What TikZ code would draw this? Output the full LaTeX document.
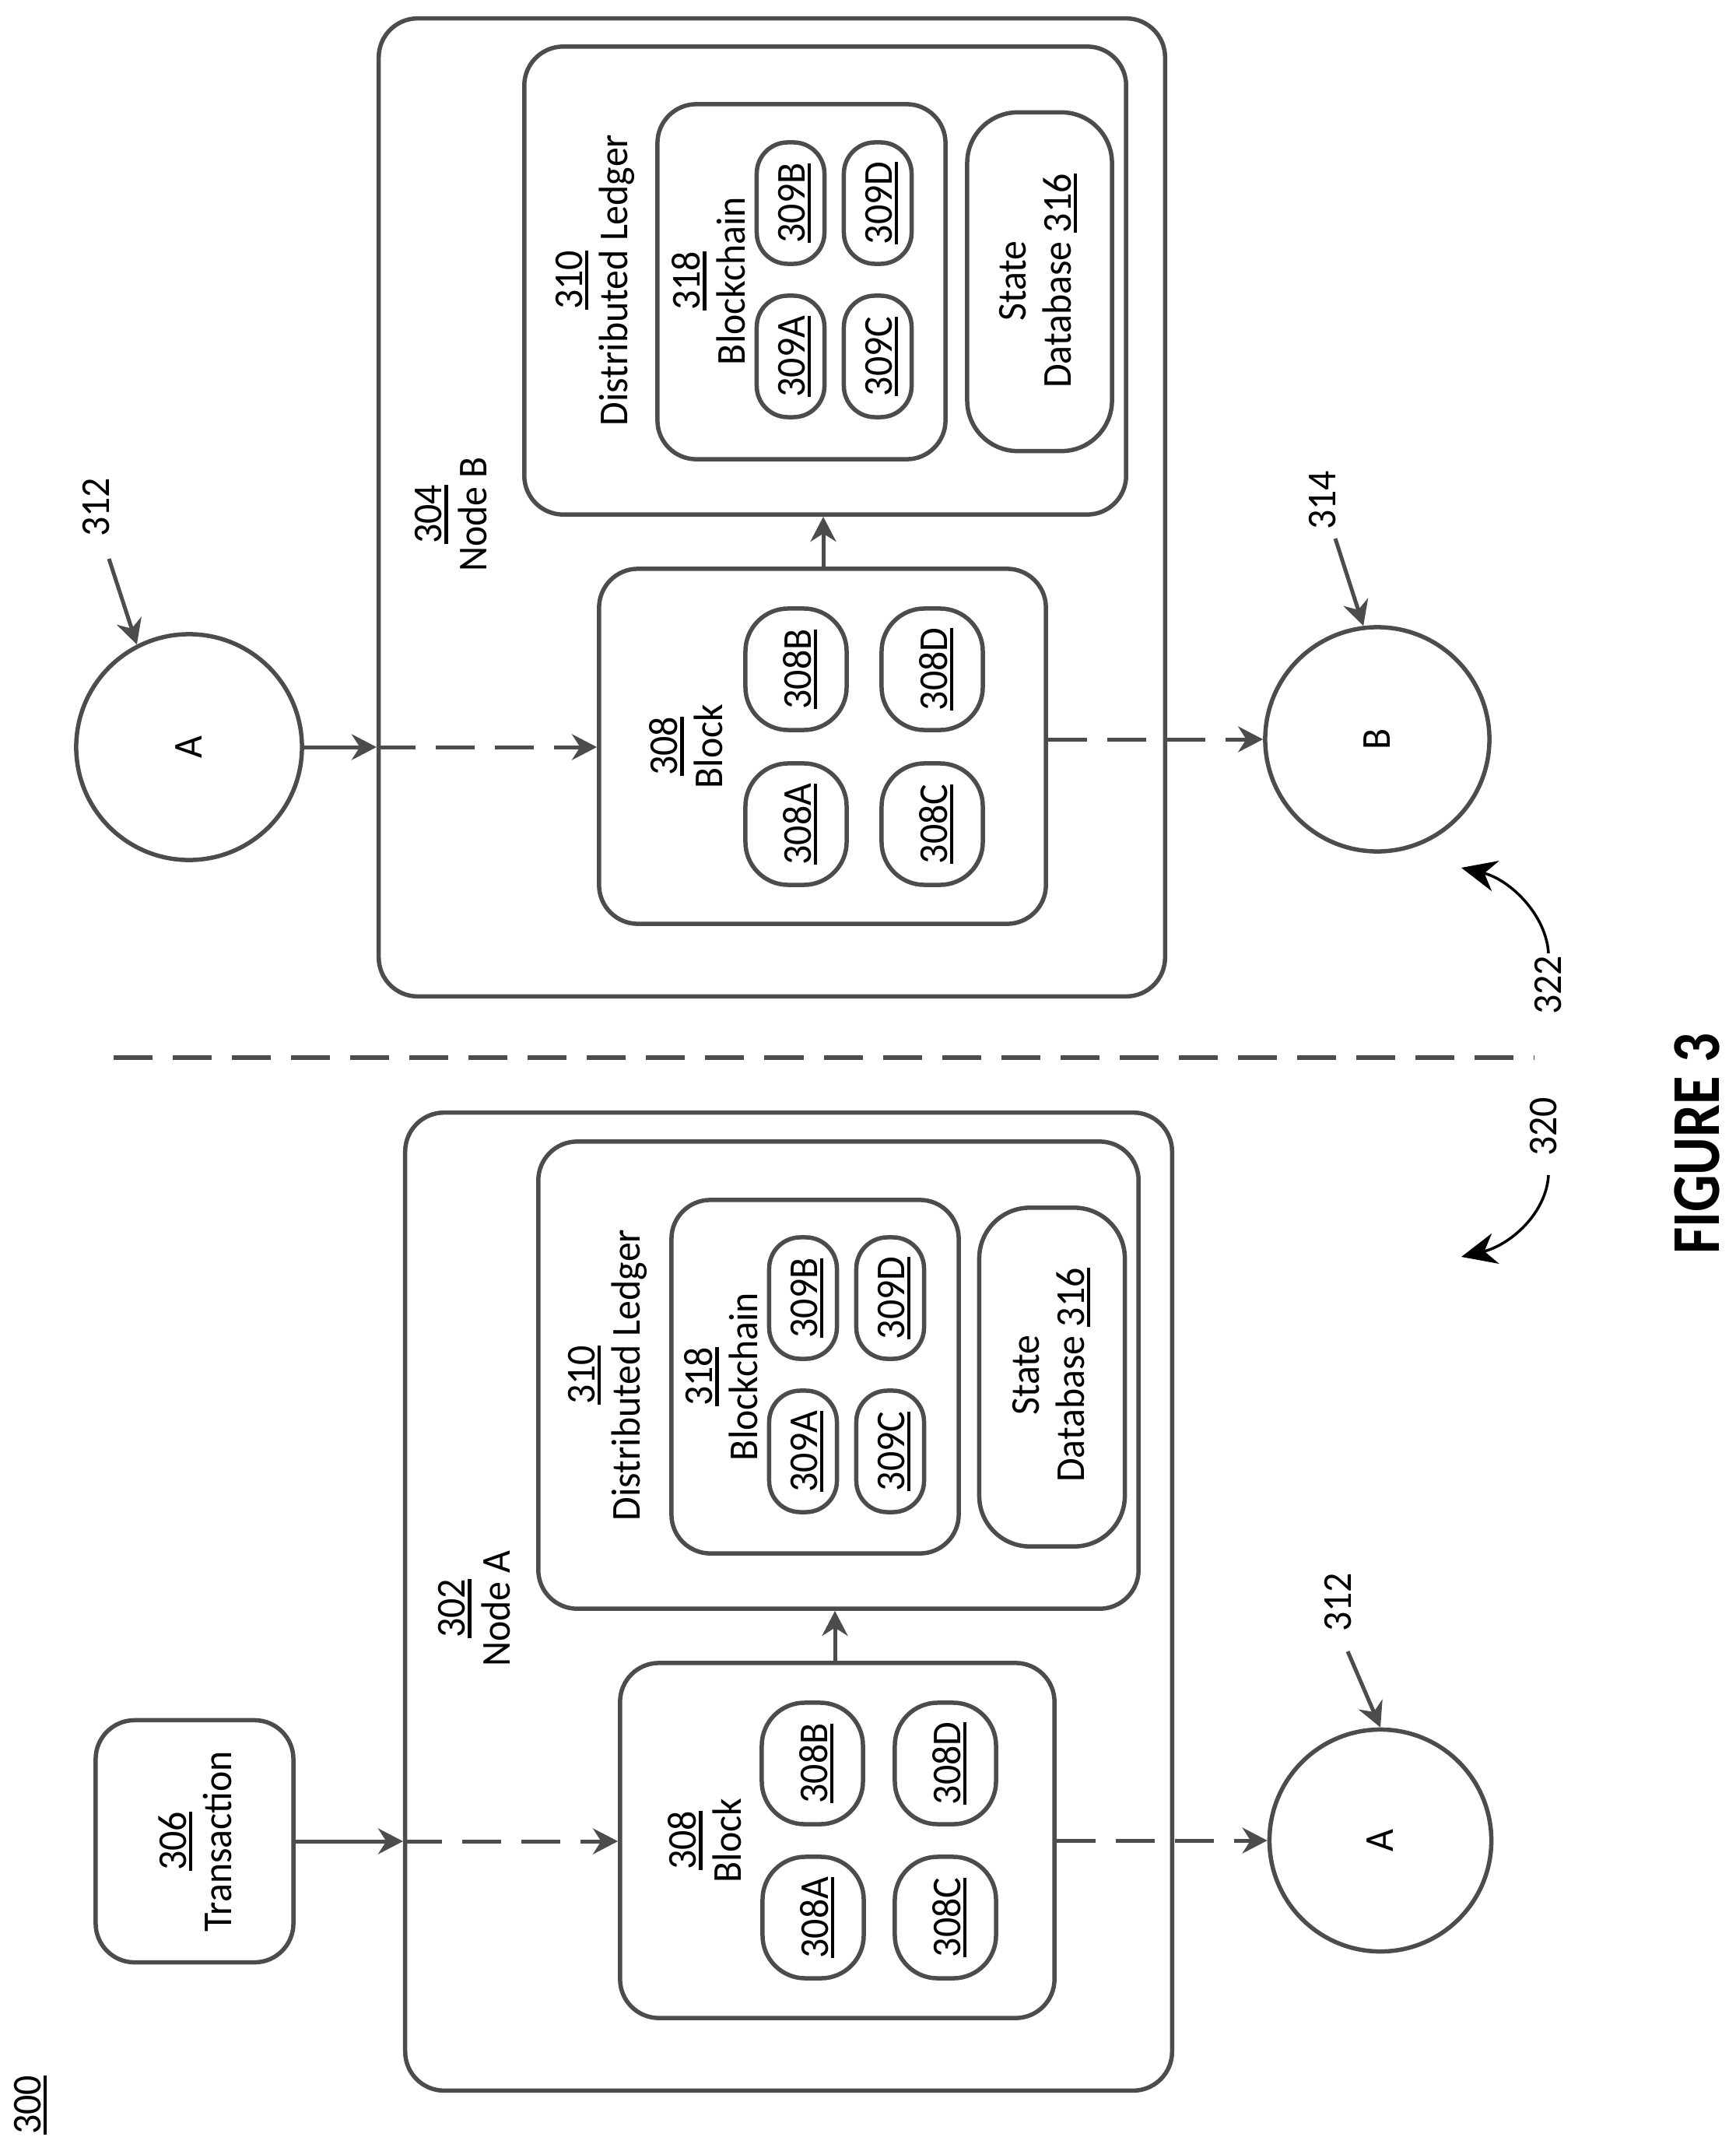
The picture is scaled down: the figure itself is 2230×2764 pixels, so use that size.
\documentclass[tikz,border=0pt]{standalone}
\usepackage{fontspec}
\setmainfont[FakeStretch=0.945]{Carlito}
\newfontfamily\figfont[FakeStretch=0.85]{Carlito}
\usetikzlibrary{arrows.meta}
\newcommand{\ubar}[1]{\leavevmode\setbox0=\hbox{#1}\rlap{\rule[-2.2pt]{\wd0}{1.2pt}}\box0}
\tikzset{%
    rbx/.style={draw=black!70,line width=0.055cm,rounded corners=0.5cm,inner sep=0pt},
    pil/.style={rbx,minimum width=0.87cm,minimum height=1.56cm,rounded corners=0.4cm},
    ovl/.style={rbx,minimum width=1.3cm,minimum height=1.56cm,rounded corners=0.55cm},
    crc/.style={draw=black!70,line width=0.055cm,circle,inner sep=0pt},
    lbl/.style={rotate=90,align=center,inner sep=0pt,font=\fontsize{15}{16.5}\selectfont},
    plb/.style={xshift=0.05cm,lbl},
    arr/.style={draw=black!70,line width=0.05cm,-{Stealth[length=0.32cm,width=0.33cm]}},
    dsh/.style={arr,dash pattern=on 0.5cm off 0.26cm},
    turn/.style={draw=black,line width=0.035cm,-{Stealth[length=0.45cm,width=0.4cm]}}
}
\begin{document}
\begin{tikzpicture}[x=0.01cm,y=-0.01cm]
    \useasboundingbox (0,0) rectangle (2230,2764);

    % left half
    \node[rbx,minimum width=9.85cm,minimum height=12.56cm] (nodea) at (1013.5,2058){};
    \node[rbx,minimum width=7.71cm,minimum height=6cm] (ledgera) at (1077.5,1767){};
    \node[rbx,minimum width=3.69cm,minimum height=4.54cm] (chaina) at (1047.5,1769){};
    \node[rbx,minimum width=1.87cm,minimum height=4.35cm,rounded corners=0.65cm] (statea) at (1352,1769.5){};
    \node[rbx,minimum width=5.58cm,minimum height=4.56cm] (blocka) at (1076,2365){};
    \node[rbx,minimum width=2.54cm,minimum height=3.11cm] (tx) at (250,2366){};
    \node[crc,minimum size=2.85cm] (circa) at (1774,2365){};

    \node[pil] (a309a) at (1032,1865){};
    \node[pil] (a309b) at (1032,1668){};
    \node[pil] (a309c) at (1144,1865){};
    \node[pil] (a309d) at (1144,1668){};
    \node[ovl] (a308a) at (1045,2464){};
    \node[ovl] (a308b) at (1044,2266){};
    \node[ovl] (a308c) at (1215,2464){};
    \node[ovl] (a308d) at (1215,2266){};

    \node[plb] (ta309a) at (a309a){\ubar{309A}};
    \node[plb] (ta309b) at (a309b){\ubar{309B}};
    \node[plb] (ta309c) at (a309c){\ubar{309C}};
    \node[plb] (ta309d) at (a309d){\ubar{309D}};
    \node[plb] (ta308a) at (a308a){\ubar{308A}};
    \node[plb] (ta308b) at (a308b){\ubar{308B}};
    \node[plb] (ta308c) at (a308c){\ubar{308C}};
    \node[plb] (ta308d) at (a308d){\ubar{308D}};

    \node[lbl] (tnodea) at (610,2067){\ubar{302}\\Node A};
    \node[lbl] (tledgera) at (781,1767){\ubar{310}\\Distributed Ledger};
    \node[lbl] (tchaina) at (927,1769){\ubar{318}\\Blockchain};
    \node[lbl] (tstatea) at (1351,1767){State\\Database \ubar{316}};
    \node[lbl] (tblocka) at (906,2365){\ubar{308}\\Block};
    \node[lbl] (ttx) at (251,2366){\ubar{306}\\Transaction};
    \node[lbl] (tcirca) at (circa){A};
    \node[lbl] (t312a) at (1720,2059){312};
    \coordinate (l312a) at (1732,2122);

    \draw[arr] (tx.east) -- (tx -| nodea.west);
    \draw[dsh] (tx -| nodea.west) -- (tx -| blocka.west);
    \draw[dsh] (blocka.east) -- (circa.west);
    \draw[arr] (blocka.north -| 1073,0) -- (ledgera.south -| 1073,0);
    \draw[arr] (l312a) -- (circa.north);

    % right half
    \node[rbx,minimum width=10.1cm,minimum height=12.56cm] (nodeb) at (992,652){};
    \node[rbx,minimum width=7.73cm,minimum height=6.01cm] (ledgerb) at (1060.5,360.5){};
    \node[rbx,minimum width=3.7cm,minimum height=4.56cm] (chainb) at (1030,362){};
    \node[rbx,minimum width=1.86cm,minimum height=4.35cm,rounded corners=0.65cm] (stateb) at (1336,362){};
    \node[rbx,minimum width=5.74cm,minimum height=4.56cm] (blockb) at (1057,959){};
    \node[crc,minimum size=2.9cm] (circc) at (243,960){};
    \node[crc,minimum size=2.88cm] (circb) at (1770,950){};

    \node[pil] (b309a) at (1016,458){};
    \node[pil] (b309b) at (1016,261){};
    \node[pil] (b309c) at (1128,458){};
    \node[pil] (b309d) at (1128,261){};
    \node[ovl] (b308a) at (1023,1059){};
    \node[ovl] (b308b) at (1023,860){};
    \node[ovl] (b308c) at (1198,1059){};
    \node[ovl] (b308d) at (1198,860){};

    \node[plb] (tb309a) at (b309a){\ubar{309A}};
    \node[plb] (tb309b) at (b309b){\ubar{309B}};
    \node[plb] (tb309c) at (b309c){\ubar{309C}};
    \node[plb] (tb309d) at (b309d){\ubar{309D}};
    \node[plb] (tb308a) at (b308a){\ubar{308A}};
    \node[plb] (tb308b) at (b308b){\ubar{308B}};
    \node[plb] (tb308c) at (b308c){\ubar{308C}};
    \node[plb] (tb308d) at (b308d){\ubar{308D}};

    \node[lbl] (tnodeb) at (580,661){\ubar{304}\\Node B};
    \node[lbl] (tledgerb) at (765,360){\ubar{310}\\Distributed Ledger};
    \node[lbl] (tchainb) at (911,361){\ubar{318}\\Blockchain};
    \node[lbl] (tstateb) at (1334,361){State\\Database \ubar{316}};
    \node[lbl] (tblockb) at (882,959){\ubar{308}\\Block};
    \node[lbl] (tcircc) at (circc){A};
    \node[lbl] (tcircb) at (circb){B};
    \node[lbl] (t312b) at (124,652){312};
    \node[lbl] (t314) at (1700,643){314};
    \coordinate (l312b) at (140,718);
    \coordinate (l314) at (1716,692);

    \draw[arr] (circc.east) -- (circc -| nodeb.west);
    \draw[dsh] (circc -| nodeb.west) -- (circc -| blockb.west);
    \draw[dsh] (blockb.east |- circb) -- (circb.west);
    \draw[arr] (blockb.north -| 1058,0) -- (ledgerb.south -| 1058,0);
    \draw[arr] (l312b) -- (circc.117);
    \draw[arr] (l314) -- (circb.97);

    % divider and the two turns
    \coordinate (divl) at (146,1359);
    \coordinate (divr) at (1972,1359);
    \draw[draw=black!70,line width=0.055cm,dash pattern=on 0.5cm off 0.26cm] (divl) -- (divr);

    \node[lbl] (t320) at (1984,1448){320};
    \node[lbl] (t322) at (1990,1266){322};
    \coordinate (s320) at (1990,1510);
    \coordinate (e320) at (1878,1615);
    \coordinate (s322) at (1990,1225);
    \coordinate (e322) at (1878,1115);
    \draw[turn] (s320) .. controls (1987,1560) and (1940,1600) .. (e320);
    \draw[turn] (s322) .. controls (1987,1175) and (1940,1130) .. (e322);

    \node[lbl,font=\fontsize{25}{27}\figfont\bfseries] (fig) at (2181,1470){FIGURE 3};
    \node[lbl] (t300) at (39,2705){\ubar{300}};
\end{tikzpicture}
\end{document}
